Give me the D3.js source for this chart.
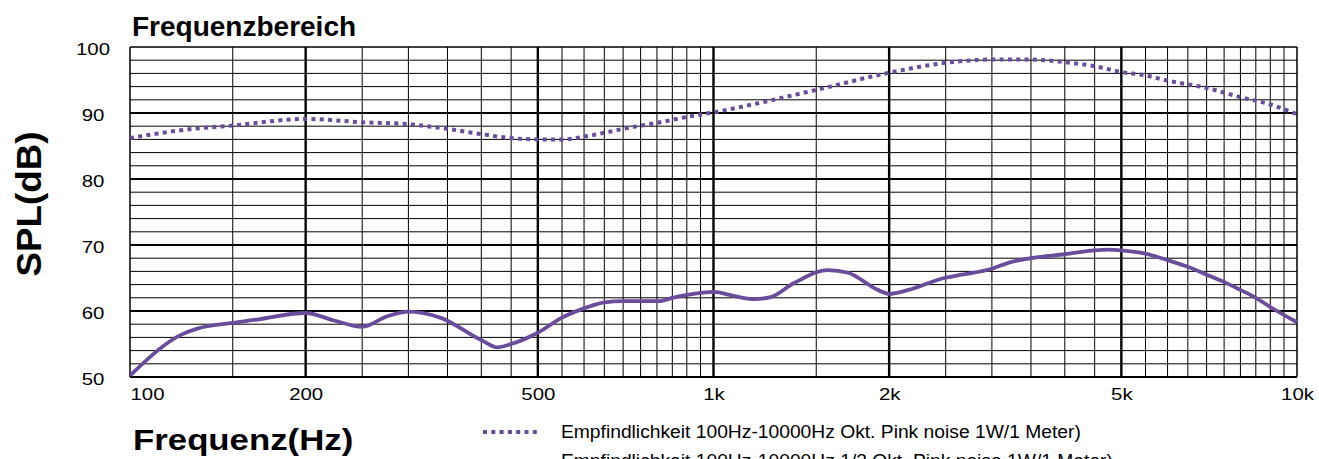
<!DOCTYPE html>
<html>
<head>
<meta charset="utf-8">
<script src="https://cdn.jsdelivr.net/npm/d3@7"></script>
<style>
  body { margin: 0; background: #fff; }
  text { font-family: "Liberation Sans", Arial, sans-serif; fill: #000; }
</style>
</head>
<body>
<div id="container"></div>
<script>
let w = 1319;
let h = 459;

// pink noise sensitivity (dotted)
let okt_freq = [100, 125, 150, 200, 250, 300, 350, 400, 450, 500, 550, 600, 650, 700, 800, 900, 1000,
  1500, 2000, 2500, 3000, 3500, 4000, 4500, 5000, 5500, 6000, 7000, 8000, 9000, 10000];
let okt_db = [86.2, 87.5, 88.1, 89.1, 88.6, 88.3, 87.6, 86.8, 86.2, 86.0, 86.0, 86.4, 87.0, 87.6, 88.5, 89.4, 90.1,
  93.5, 96.1, 97.6, 98.1, 98.1, 97.7, 97.1, 96.2, 95.7, 94.9, 93.8, 92.4, 91.3, 89.8];

// 1/3 octave response (solid)
let terz_freq = [100, 123, 130, 150, 162, 200, 223, 250, 276, 300, 340, 400, 426, 450, 500, 550, 600, 650, 700,
  810, 850, 924, 1000, 1082, 1173, 1253, 1372, 1571, 1700, 1912, 2000, 2160, 2483, 2660, 3000, 3200, 3500,
  4000, 4500, 4750, 5000, 5500, 6000, 6500, 7000, 7500, 8000, 8500, 9000, 10000];
let terz_db = [50.2, 56.5, 57.3, 58.2, 58.6, 59.7, 58.6, 57.6, 59.2, 59.9, 59.0, 55.6, 54.5, 55.0, 56.7, 59.0, 60.4, 61.3, 61.5,
  61.5, 62.0, 62.6, 62.9, 62.3, 61.8, 62.1, 64.2, 66.2, 65.8, 63.2, 62.6, 63.2, 65.0, 65.5, 66.4, 67.3, 68.0,
  68.6, 69.2, 69.3, 69.2, 68.7, 67.7, 66.7, 65.5, 64.4, 63.2, 62.0, 60.6, 58.3];

let xTickValues = [100, 200, 500, 1000, 2000, 5000, 10000];
let xTickLabels = ["100", "200", "500", "1k", "2k", "5k", "10k"];
let yTickValues = [50, 60, 70, 80, 90, 100];
let majorFreqs = [200, 500, 1000, 2000, 5000];

let legendLabels = [
  "Empfindlichkeit 100Hz-10000Hz Okt. Pink noise 1W/1 Meter)",
  "Empfindlichkeit 100Hz-10000Hz 1/3 Okt. Pink noise 1W/1 Meter)"
];

let purple = "#6a4c9c";

let viz = d3.select("#container")
  .append("svg")
    .attr("width", w)
    .attr("height", h)
;

let xScale = d3.scaleLog().domain([100, 10000]).range([130, 1297]);
let yScale = d3.scaleLinear().domain([50, 100]).range([377, 47]);

// grid
let gridFreqs = d3.range(100, 1001, 50).concat(d3.range(1500, 10001, 500));
let gridDb = d3.range(50, 101, 2);
let grid = viz.append("g").attr("class", "grid");

grid.selectAll(".hline").data(gridDb).enter()
  .append("line")
    .attr("class", "hline")
    .attr("x1", xScale(100))
    .attr("x2", xScale(10000))
    .attr("y1", function(d){ return yScale(d); })
    .attr("y2", function(d){ return yScale(d); })
    .attr("stroke", "#000")
    .attr("stroke-width", function(d){
      if (d == 100) return 1.5;
      return d % 10 == 0 ? 2.2 : 1;
    })
;

grid.selectAll(".vline").data(gridFreqs).enter()
  .append("line")
    .attr("class", "vline")
    .attr("x1", function(d){ return xScale(d); })
    .attr("x2", function(d){ return xScale(d); })
    .attr("y1", yScale(100))
    .attr("y2", yScale(50))
    .attr("stroke", "#000")
    .attr("stroke-width", function(d){
      if (majorFreqs.indexOf(d) >= 0) return 2.4;
      if (d == 100 || d == 10000) return 1.5;
      return 1;
    })
;

// curves
let line = d3.line()
  .x(function(d){ return xScale(d[0]); })
  .y(function(d){ return yScale(d[1]); })
  .curve(d3.curveMonotoneX)
;

let oktData = okt_freq.map(function(f, i){ return [f, okt_db[i]]; });
let terzData = terz_freq.map(function(f, i){ return [f, terz_db[i]]; });

viz.append("path")
  .datum(oktData)
  .attr("d", line)
  .attr("fill", "none")
  .attr("stroke", purple)
  .attr("stroke-width", 4)
  .attr("stroke-dasharray", "4,4.3")
;

viz.append("path")
  .datum(terzData)
  .attr("d", line)
  .attr("fill", "none")
  .attr("stroke", purple)
  .attr("stroke-width", 3.8)
  .attr("stroke-linejoin", "round")
;

// x axis labels
let xAxis = d3.axisBottom(xScale)
  .tickValues(xTickValues)
  .tickFormat(function(d, i){ return xTickLabels[i]; })
  .tickSize(0)
;
let xAxisGroup = viz.append("g").attr("class", "xaxis")
  .attr("transform", "translate(0, 377)")
  .call(xAxis);
xAxisGroup.select(".domain").remove();
xAxisGroup.selectAll("text")
  .attr("y", 23)
  .attr("dy", 0)
  .attr("font-size", 17)
  .attr("font-family", "Liberation Sans, Arial, sans-serif")
  .attr("fill", "#000")
  .attr("text-anchor", function(d, i){ return i == 0 ? "start" : "middle"; })
  .attr("transform", "scale(1.2,1)")
;

// y axis labels
let yAxis = d3.axisLeft(yScale).tickValues(yTickValues).tickSize(0).tickPadding(0);
let yAxisGroup = viz.append("g").attr("class", "yaxis")
  .attr("transform", "translate(93, 0)")
  .call(yAxis);
yAxisGroup.select(".domain").remove();
yAxisGroup.selectAll("text")
  .attr("x", 0)
  .attr("dy", "0.42em")
  .attr("font-size", 17)
  .attr("font-family", "Liberation Sans, Arial, sans-serif")
  .attr("fill", "#000")
  .attr("text-anchor", "middle")
  .attr("transform", "scale(1.2,1)")
;

// titles
viz.append("text")
  .text("Frequenzbereich")
  .attr("x", 132)
  .attr("y", 36)
  .attr("font-size", 28)
  .attr("font-weight", "bold")
;

viz.append("text")
  .text("SPL(dB)")
  .attr("transform", "translate(41, 204) rotate(-90) scale(1.05,1)")
  .attr("text-anchor", "middle")
  .attr("font-size", 35)
  .attr("font-weight", "bold")
;

viz.append("text")
  .text("Frequenz(Hz)")
  .attr("transform", "translate(133, 450) scale(1.2,1)")
  .attr("font-size", 29)
  .attr("font-weight", "bold")
;

// legend
let legend = viz.append("g").attr("class", "legend");
let legendItems = legend.selectAll(".item").data(legendLabels).enter()
  .append("g")
    .attr("class", "item")
    .attr("transform", function(d, i){ return "translate(483, " + (432 + i * 29) + ")"; })
;
legendItems.append("line")
  .attr("x1", 0)
  .attr("x2", 54)
  .attr("y1", 0)
  .attr("y2", 0)
  .attr("stroke", purple)
  .attr("stroke-width", function(d, i){ return i == 0 ? 4 : 3.8; })
  .attr("stroke-dasharray", function(d, i){ return i == 0 ? "4,4.3" : null; })
;
legendItems.append("text")
  .text(function(d){ return d; })
  .attr("transform", "translate(78, 6) scale(1.07,1)")
  .attr("font-size", 18)
  .attr("font-family", "Liberation Sans Narrow, Arial Narrow, Liberation Sans, sans-serif")
  .attr("fill", "#111")
;
</script>
</body>
</html>
